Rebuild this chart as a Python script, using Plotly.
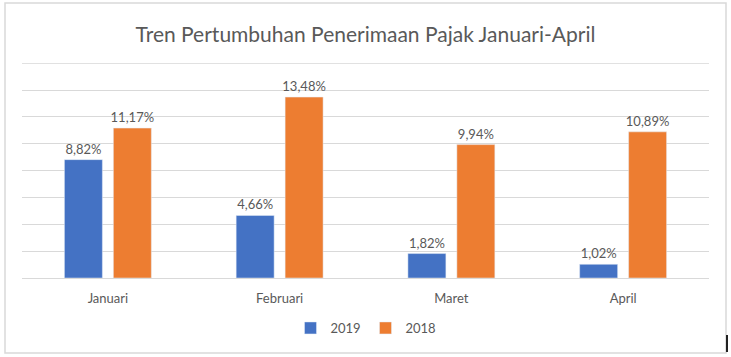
import plotly.graph_objects as go

months = ["Januari", "Februari", "Maret", "April"]
y2019 = [8.82, 4.66, 1.82, 1.02]
y2018 = [11.17, 13.48, 9.94, 10.89]
title = "Tren Pertumbuhan Penerimaan Pajak Januari-April"

def lab(vals):
    return [f"{v:.2f}".replace(".", ",") + "%" for v in vals]

FONT = "Lato, 'Open Sans', sans-serif"
GRAY = "#595959"

fig = go.Figure()
fig.add_trace(go.Bar(x=months, y=y2019, name="2019", marker=dict(color="#4472C4"),
                     text=lab(y2019), textposition="outside", cliponaxis=False,
                     textfont=dict(size=13, color=GRAY, family=FONT)))
fig.add_trace(go.Bar(x=months, y=y2018, name="2018", marker=dict(color="#ED7D31"),
                     text=lab(y2018), textposition="outside", cliponaxis=False,
                     textfont=dict(size=13, color=GRAY, family=FONT)))

fig.update_layout(
    width=731, height=357,
    margin=dict(l=22, r=22, t=63, b=79, autoexpand=False),
    paper_bgcolor="white", plot_bgcolor="white",
    barmode="group", bargap=0.43, bargroupgap=0.224,
    title=dict(text=title, x=0.5, xanchor="center", y=1 - 35/357, yanchor="middle",
               font=dict(size=21, color=GRAY, family=FONT)),
    font=dict(family=FONT, color=GRAY),
    showlegend=True,
    legend=dict(orientation="h", x=0.5, xanchor="center", y=-(328-278)/215, yanchor="middle",
                font=dict(size=13, color=GRAY, family=FONT), itemwidth=30,
                entrywidth=30, entrywidthmode="pixels",
                traceorder="normal"),
    uniformtext=dict(mode="show", minsize=13),
)
fig.update_xaxes(showline=True, linecolor="#D9D9D9", linewidth=1, ticks="",
                 tickfont=dict(size=13, color=GRAY, family=FONT), ticklabelstandoff=8)
fig.update_yaxes(range=[0, 16.02], dtick=2, showgrid=True, gridcolor="#D9D9D9", gridwidth=1,
                 showticklabels=False, zeroline=False)

# top gridline (at 16) drawn explicitly
fig.add_hline(y=16, line=dict(color="#D9D9D9", width=1), layer="below")
# outer chart border
fig.add_shape(type="rect", xref="paper", yref="paper",
              x0=(5-22)/687, x1=(726-22)/687, y0=-(353-278)/215, y1=(278-3)/215,
              line=dict(color="#D9D9D9", width=1.5), fillcolor="rgba(0,0,0,0)", layer="above")
fig.add_shape(type="line", xref="paper", yref="paper",
              x0=(727-22)/687, x1=(727-22)/687, y0=-(335-278)/215, y1=-(352-278)/215,
              line=dict(color="#222222", width=2))

fig.write_html("out.html", config={"displayModeBar": False},
               post_script="document.body.style.margin='0';document.body.style.padding='0';")
